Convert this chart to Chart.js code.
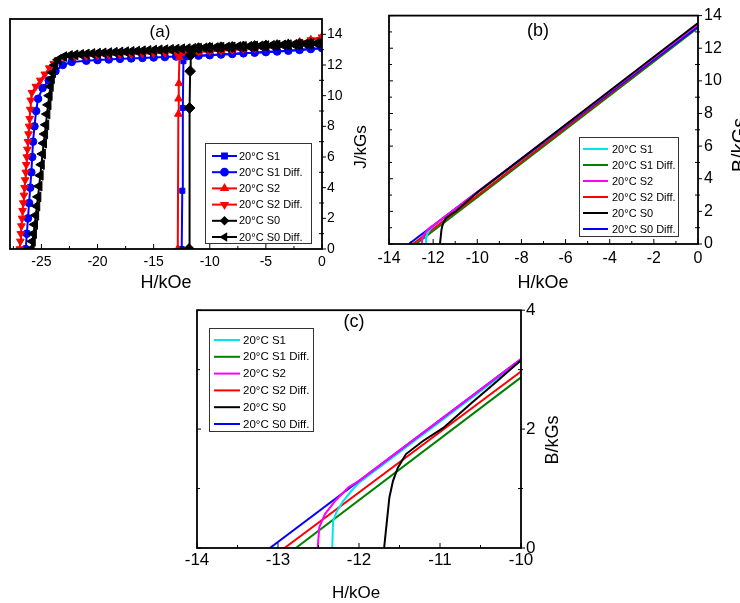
<!DOCTYPE html>
<html>
<head>
<meta charset="utf-8">
<script src="https://cdn.jsdelivr.net/npm/chart.js@4.4.1/dist/chart.umd.min.js"></script>
<style>
  body { margin: 0; background: #fff; }
  #wrap { position: relative; width: 740px; height: 603px; overflow: hidden; background: #fff; }
  canvas { position: absolute; }
</style>
</head>
<body>
<div id="wrap">
  <canvas id="chartA" width="370" height="300" style="left:0;top:0"></canvas>
  <canvas id="chartB" width="370" height="300" style="left:370px;top:0"></canvas>
  <canvas id="chartC" width="390" height="308" style="left:180px;top:295px"></canvas>
</div>
<script>
// legend names (same for all three panels)
const names = ['20°C S1', '20°C S1 Diff.', '20°C S2', '20°C S2 Diff.', '20°C S0', '20°C S0 Diff.'];

// ---- panel (a): J (kGs) vs H (kOe)
const hS1a = [-12.5, -12.45, -12.4, -12.35, -12.3, -12, -11, -10, -9, -8, -7, -6, -5, -4, -3, -2, -1, 0];
const jS1a = [0, 3.8, 9.2, 12.25, 12.52, 12.58, 12.61, 12.64, 12.68, 12.72, 12.76, 12.8, 12.84, 12.88, 12.93, 12.98, 13.04, 13.1];

const hS1Da = [-26.4, -26.3, -26.2, -26.1, -26.0, -25.9, -25.82, -25.75, -25.62, -25.47, -25.3, -24.9, -24.35, -23.75, -23.1, -22.3,
  -21, -20, -19, -18, -17, -16, -15, -14, -13, -12, -11, -10, -9, -8, -7, -6, -5, -4, -3, -2, -1, 0];
const jS1Da = [0, 1, 2, 3, 4, 5, 6, 7, 8, 9, 9.8, 10.5, 11.0, 11.6, 12.0, 12.2,
  12.28, 12.32, 12.36, 12.4, 12.43, 12.46, 12.49, 12.52, 12.55, 12.58, 12.61, 12.64, 12.68, 12.72, 12.76, 12.8, 12.84, 12.88, 12.93, 12.98, 13.04, 13.1];

const hS2a = [-12.85, -12.8, -12.78, -12.75, -12.7, -12.6, -12, -11, -10, -9, -8, -7, -6, -5, -4, -3, -2, -1, 0];
const jS2a = [0, 8.8, 9.8, 10.8, 12.5, 12.75, 12.8, 12.85, 12.9, 12.95, 13.0, 13.06, 13.12, 13.2, 13.28, 13.38, 13.5, 13.65, 13.85];

const hS2Da = [-26.93, -26.88, -26.83, -26.78, -26.73, -26.68, -26.62, -26.56, -26.5, -26.45, -26.4, -26.35, -26.3, -26.25,
  -26.2, -26.15, -26.1, -26.05, -26.0, -25.95, -25.85, -25.5, -25.1, -24.7, -24.3, -23.9, -23.5, -23.0,
  -22, -21, -20, -19, -18, -17, -16, -15, -14, -13, -12, -11, -10, -9, -8, -7, -6, -5, -4, -3, -2, -1, 0];
const jS2Da = [0, 0.5, 1, 1.5, 2, 2.5, 3, 3.5, 4, 4.5, 5, 5.5, 6, 6.5,
  7, 7.5, 8, 8.5, 9.1, 9.7, 10.2, 10.6, 11.0, 11.4, 11.8, 12.1, 12.35, 12.5,
  12.55, 12.58, 12.62, 12.65, 12.68, 12.71, 12.74, 12.77, 12.8, 12.83, 12.86, 12.88, 12.91, 12.95, 12.99, 13.04, 13.1, 13.17, 13.25, 13.35, 13.48, 13.63, 13.82];

const hS0a = [-11.85, -11.8, -11.75, -11.7, -11, -10, -9, -8, -7, -6, -5, -4, -3, -2, -1, 0];
const jS0a = [0, 9.2, 11.6, 12.65, 13.1, 13.13, 13.16, 13.18, 13.21, 13.24, 13.27, 13.3, 13.33, 13.36, 13.39, 13.43];

const hS0Da = [-25.9, -25.8, -25.7, -25.6, -25.5, -25.4, -25.3, -25.2, -25.1, -25.0, -24.9, -24.8, -24.7, -24.6, -24.5, -24.4,
  -24.3, -24.2, -24.1, -24.0, -23.8, -23.5, -23.0,
  -22.5, -22, -21.5, -21, -20.5, -20, -19.5, -19, -18.5, -18, -17.5, -17, -16.5, -16, -15.5, -15, -14.5, -14, -13.5, -13,
  -12.5, -12, -11.5, -11, -10.5, -10, -9.5, -9, -8.5, -8, -7.5, -7, -6.5, -6, -5.5, -5, -4.5, -4, -3.5, -3, -2.5, -2, -1.5, -1, -0.5, 0];
const jS0Da = [0, 0.5, 1.0, 1.6, 2.2, 2.8, 3.4, 4.1, 4.8, 5.5, 6.2, 6.9, 7.5, 8.1, 8.8, 9.4,
  10.0, 10.6, 11.1, 11.5, 12.0, 12.35, 12.55,
  12.62, 12.66, 12.69, 12.72, 12.75, 12.77, 12.79, 12.81, 12.83, 12.85, 12.87, 12.89, 12.91, 12.93, 12.95, 12.97, 12.99, 13.0, 13.02, 13.04,
  13.06, 13.07, 13.09, 13.1, 13.12, 13.13, 13.14, 13.16, 13.17, 13.18, 13.2, 13.21, 13.22, 13.24, 13.25, 13.27, 13.28, 13.3, 13.31, 13.33, 13.34, 13.36, 13.37, 13.39, 13.41, 13.43];

// ---- panels (b) and (c): B (kGs) vs H (kOe), same curves, different ranges
const hS1b = [-12.33, -12.32, -12.28, -12.2, -12.1, -12.0, -10, 0];
const bS1b = [0, 0.45, 0.6, 0.78, 0.95, 1.1, 3.15, 13.4];
const hS1Db = [-12.78, -10, 0];
const bS1Db = [0, 2.87, 13.25];
const hS2b = [-12.51, -12.49, -12.42, -12.29, -12.13, -12.0, -10, 0];
const bS2b = [0, 0.35, 0.57, 0.8, 1.02, 1.13, 3.18, 13.45];
const hS2Db = [-12.92, -10, 0];
const bS2Db = [0, 2.97, 13.35];
const hS0b = [-11.69, -11.625, -11.58, -11.52, -11.42, -11.21, -10.96, -10.6, -10.3, -10, 0];
const bS0b = [0, 0.85, 1.13, 1.35, 1.58, 1.8, 2.02, 2.45, 2.8, 3.16, 13.55];
const hS0Db = [-13.1, -10, 0];
const bS0Db = [0, 3.18, 13.33];

// ticks
const xMajorA = [-25, -20, -15, -10, -5, 0];
const xMinorA = [-27.5, -22.5, -17.5, -12.5, -7.5, -2.5];
const yMajorA = [0, 2, 4, 6, 8, 10, 12, 14];
const yMinorA = [1, 3, 5, 7, 9, 11, 13];
const xMajorB = [-14, -12, -10, -8, -6, -4, -2, 0];
const xMinorB = [-13, -11, -9, -7, -5, -3, -1];
const yMajorB = [0, 2, 4, 6, 8, 10, 12, 14];
const yMinorB = [1, 3, 5, 7, 9, 11, 13];
const xMajorC = [-14, -13, -12, -11, -10];
const xMinorC = [-13.5, -12.5, -11.5, -10.5];
const yMajorC = [0, 2, 4];
const yMinorC = [1, 3];

Chart.defaults.font.family = '"Liberation Sans", Arial, sans-serif';
Chart.defaults.color = '#000';

const pts = (hs, vs) => hs.map((h, i) => ({ x: h, y: vs[i] }));

function line(label, hs, vs, color, order, marker, rot, r) {
  return {
    label, data: pts(hs, vs), order,
    borderColor: color, backgroundColor: color,
    borderWidth: 2, showLine: true,
    pointStyle: marker || false, rotation: rot || 0,
    pointRadius: marker ? (r || 3.8) : 0, pointBorderWidth: 1,
    pointBackgroundColor: color, pointBorderColor: color
  };
}

function ptMark(ctx, style, rot, r, x, y) {
  if (Chart.helpers && Chart.helpers.drawPoint) {
    Chart.helpers.drawPoint(ctx, { pointStyle: style, rotation: rot, radius: r, borderWidth: 1 }, x, y);
  }
}

const deco = {
  id: 'deco',
  afterDraw(chart, args, o) {
    const { ctx, chartArea: a, scales: { x, y } } = chart;
    const seg = (x1, y1, x2, y2) => { ctx.beginPath(); ctx.moveTo(x1, y1); ctx.lineTo(x2, y2); ctx.stroke(); };
    ctx.save();
    ctx.strokeStyle = '#000';
    ctx.lineWidth = 1;
    o.xMajor.forEach(v => { const p = x.getPixelForValue(v); seg(p, a.bottom, p, a.bottom - 5); });
    o.xMinor.forEach(v => { const p = x.getPixelForValue(v); seg(p, a.bottom, p, a.bottom - 3); });
    o.yMajor.forEach(v => {
      const p = y.getPixelForValue(v);
      seg(a.right, p, a.right + 4, p);
      if (o.mirror) seg(a.left, p, a.left + 4, p);
    });
    o.yMinor.forEach(v => {
      const p = y.getPixelForValue(v);
      seg(a.right - 3, p, a.right + 2, p);
      if (o.mirror) seg(a.left, p, a.left + 3, p);
    });
    ctx.lineWidth = 1.8;
    ctx.strokeRect(a.left, a.top, a.right - a.left, a.bottom - a.top);

    // legend box
    const L = o.legend;
    ctx.fillStyle = '#fff';
    ctx.fillRect(L.x0, L.y0, L.x1 - L.x0, L.y1 - L.y0);
    ctx.lineWidth = 1;
    ctx.strokeStyle = '#333';
    ctx.strokeRect(L.x0 + 0.5, L.y0 + 0.5, L.x1 - L.x0, L.y1 - L.y0);
    ctx.font = L.font + 'px "Liberation Sans", Arial, sans-serif';
    ctx.textAlign = 'left';
    ctx.textBaseline = 'middle';
    chart.data.datasets.forEach((ds, i) => {
      const ry = L.row0 + i * L.step;
      ctx.strokeStyle = ds.borderColor;
      ctx.fillStyle = ds.borderColor;
      ctx.lineWidth = 2;
      seg(L.lx0, ry, L.lx1, ry);
      if (ds.pointStyle) ptMark(ctx, ds.pointStyle, ds.rotation, 3.4, (L.lx0 + L.lx1) / 2, ry);
      ctx.fillStyle = '#000';
      ctx.fillText(ds.label, L.tx, ry + 0.5);
    });

    // panel tag and axis titles
    ctx.fillStyle = '#000';
    ctx.textAlign = 'center';
    ctx.textBaseline = 'middle';
    ctx.font = o.tagSize + 'px "Liberation Sans", Arial, sans-serif';
    ctx.fillText(o.tag, o.tagX, o.tagY);
    ctx.font = o.xtSize + 'px "Liberation Sans", Arial, sans-serif';
    ctx.fillText('H/kOe', o.xtX, o.xtY);
    ctx.font = o.ytSize + 'px "Liberation Sans", Arial, sans-serif';
    ctx.translate(o.ytX, o.ytY);
    ctx.rotate(-Math.PI / 2);
    ctx.textBaseline = 'alphabetic';
    ctx.fillText(o.yTitle, 0, 0);
    ctx.restore();
  }
};

function axes(s) {
  return {
    x: {
      type: 'linear', position: 'bottom', min: s.xMin, max: s.xMax,
      afterFit: sc => { sc.height = s.xH; },
      afterBuildTicks: sc => { sc.ticks = s.xMajor.map(v => ({ value: v })); },
      grid: { display: false, drawTicks: false }, border: { display: false },
      ticks: { color: '#000', font: { size: s.tick }, padding: s.xPad, maxRotation: 0, autoSkip: false }
    },
    y: {
      type: 'linear', position: 'right', min: s.yMin, max: s.yMax,
      afterFit: sc => { sc.width = s.yW; },
      afterBuildTicks: sc => { sc.ticks = s.yMajor.map(v => ({ value: v })); },
      grid: { display: false, drawTicks: false }, border: { display: false },
      ticks: { color: '#000', font: { size: s.tick }, padding: s.yPad, autoSkip: false }
    }
  };
}

function bhSets() {
  return [
    line(names[0], hS1b, bS1b, '#00e5ee', 3),
    line(names[1], hS1Db, bS1Db, '#008000', 5),
    line(names[2], hS2b, bS2b, '#ff00ff', 1),
    line(names[3], hS2Db, bS2Db, '#ff0000', 4),
    line(names[4], hS0b, bS0b, '#000000', 0),
    line(names[5], hS0Db, bS0Db, '#0000ff', 2)
  ];
}

// (a)
new Chart(document.getElementById('chartA'), {
  type: 'scatter',
  data: {
    datasets: [
      line(names[0], hS1a, jS1a, '#0000ff', 5, 'rect', 0, 3.6),
      line(names[1], hS1Da, jS1Da, '#0000ff', 4, 'circle', 0, 3.8),
      line(names[2], hS2a, jS2a, '#ff0000', 3, 'triangle', 0, 4.4),
      line(names[3], hS2Da, jS2Da, '#ff0000', 2, 'triangle', 180, 4.4),
      line(names[4], hS0a, jS0a, '#000000', 1, 'rectRot', 0, 5.4),
      line(names[5], hS0Da, jS0Da, '#000000', 0, 'triangle', 270, 5.6)
    ]
  },
  options: {
    responsive: false, animation: false,
    layout: { padding: { left: 10, top: 19, right: 0, bottom: 0 } },
    scales: axes({ xMin: -27.8, xMax: 0, yMin: 0, yMax: 15, xH: 51, yW: 48, tick: 14, xPad: 5, yPad: 5,
      xMajor: xMajorA, yMajor: yMajorA }),
    plugins: {
      legend: { display: false }, tooltip: { enabled: false },
      deco: {
        xMajor: xMajorA, xMinor: xMinorA, yMajor: yMajorA, yMinor: yMinorA, mirror: false,
        tag: '(a)', tagSize: 17, tagX: 160, tagY: 32,
        xtSize: 18, xtX: 166, xtY: 283,
        yTitle: 'J/kGs', ytSize: 17, ytX: 366, ytY: 147,
        legend: { x0: 205, y0: 143, x1: 311, y1: 243, row0: 156, step: 16.2, lx0: 212, lx1: 237, tx: 239, font: 11 }
      }
    }
  },
  plugins: [deco]
});

// (b)
new Chart(document.getElementById('chartB'), {
  type: 'scatter',
  data: { datasets: bhSets() },
  options: {
    responsive: false, animation: false,
    layout: { padding: { left: 19, top: 15, right: 0, bottom: 0 } },
    scales: axes({ xMin: -14, xMax: 0, yMin: 0, yMax: 14, xH: 56, yW: 42, tick: 16, xPad: 5, yPad: 6,
      xMajor: xMajorB, yMajor: yMajorB }),
    plugins: {
      legend: { display: false }, tooltip: { enabled: false },
      deco: {
        xMajor: xMajorB, xMinor: xMinorB, yMajor: yMajorB, yMinor: yMinorB, mirror: true,
        tag: '(b)', tagSize: 18, tagX: 168, tagY: 31,
        xtSize: 18, xtX: 173, xtY: 283,
        yTitle: 'B/kGs', ytSize: 20, ytX: 376, ytY: 145,
        legend: { x0: 209, y0: 137, x1: 308, y1: 236, row0: 149, step: 16, lx0: 213, lx1: 238, tx: 242, font: 11 }
      }
    }
  },
  plugins: [deco]
});

// (c)
new Chart(document.getElementById('chartC'), {
  type: 'scatter',
  data: { datasets: bhSets() },
  options: {
    responsive: false, animation: false,
    layout: { padding: { left: 17, top: 13, right: 0, bottom: 0 } },
    scales: axes({ xMin: -14, xMax: -10, yMin: 0, yMax: 4, xH: 55, yW: 49, tick: 17, xPad: 2, yPad: 5,
      xMajor: xMajorC, yMajor: yMajorC }),
    plugins: {
      legend: { display: false }, tooltip: { enabled: false },
      deco: {
        xMajor: xMajorC, xMinor: xMinorC, yMajor: yMajorC, yMinor: yMinorC, mirror: true,
        tag: '(c)', tagSize: 18, tagX: 174, tagY: 27,
        xtSize: 17, xtX: 176, xtY: 298,
        yTitle: 'B/kGs', ytSize: 18, ytX: 378, ytY: 145,
        legend: { x0: 29, y0: 33, x1: 133, y1: 136, row0: 45, step: 16.8, lx0: 34, lx1: 60, tx: 63, font: 11.5 }
      }
    }
  },
  plugins: [deco]
});
</script>
</body>
</html>
